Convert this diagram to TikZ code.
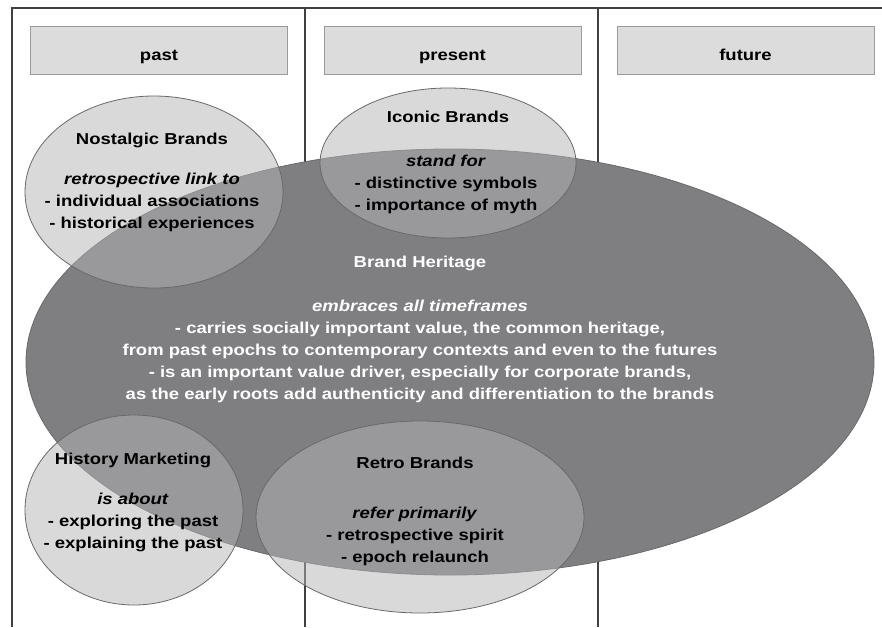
\documentclass[tikz,border=0pt]{standalone}
\usepackage{fontspec}
\setmainfont{Liberation Sans}[FakeStretch=1.17]
\usetikzlibrary{shapes.geometric,positioning}
\definecolor{framegray}{HTML}{404040}
\definecolor{boxgray}{HTML}{DCDCDD}
\definecolor{boxline}{HTML}{9A9A9A}
\definecolor{heritage}{HTML}{7F7F82}
\definecolor{brandgray}{HTML}{B3B3B6}
\definecolor{rimgray}{HTML}{696969}
\newcommand{\ital}[1]{\textit{#1}}
\tikzset{
  frame/.style={draw=framegray,line width=1.4pt},
  timebox/.style={draw=boxline,fill=boxgray,line width=0.9pt,minimum width=257pt,minimum height=48pt,inner sep=0pt},
  brand/.style={ellipse,draw=rimgray,line width=0.8pt,fill=brandgray,fill opacity=0.5,inner sep=0pt},
  txt/.style={anchor=base,inner sep=0pt,font=\fontsize{15.8}{22}\selectfont\bfseries},
}

\begin{document}
\begin{tikzpicture}[x=1pt,y=-1pt]
  \useasboundingbox (0,0) rectangle (882,627);
  % timeframe columns
  \draw[frame] (12,627) -- (12,8) -- (882,8);
  \draw[frame] (305,8) -- (305,627) (598,8) -- (598,627);
  \node[timebox] (past) at (159,50) {};
  \node[timebox] (present) at (452.5,50) {};
  \node[timebox] (future) at (745.5,50) {};
  \node[txt] (pastlbl) at (159,60) {past};
  \node[txt] (presentlbl) at (452.5,60) {present};
  \node[txt] (futurelbl) at (745.5,60) {future};

  % brand heritage underneath everything else
  \node[ellipse,draw=rimgray,line width=0.8pt,fill=heritage,inner sep=0pt,
    minimum width=848pt,minimum height=426pt] (heritage) at (450,362) {};

  \node[brand,minimum width=258pt,minimum height=192pt] (nostalgic) at (154,192) {};
  \node[brand,minimum width=256pt,minimum height=150pt] (iconic) at (448,163) {};
  \node[brand,minimum width=218pt,minimum height=190pt] (history) at (134,510) {};
  \node[brand,minimum width=328pt,minimum height=192pt] (retro) at (420,517) {};

  % texts
  \node[txt] (nosttitle) at (152,144) {Nostalgic Brands};
  \foreach \l [count=\i from 0] in {{\ital{retrospective link to}},
      - individual associations, - historical experiences}
    \node[txt] (nost-\i) at (152,184+22*\i) {\l};

  \node[txt] (icontitle) at (448,122) {Iconic Brands};
  \foreach \l [count=\i from 0] in {{\ital{stand for}},
      - distinctive symbols, - importance of myth}
    \node[txt] (icon-\i) at (446,166+22*\i) {\l};

  \node[txt,white] (herititle) at (420,267) {Brand Heritage};
  \foreach \l [count=\i from 0] in {{\ital{embraces all timeframes}},
      {- carries socially important value, the common heritage,},
      from past epochs to contemporary contexts and even to the futures,
      {- is an important value driver, especially for corporate brands,},
      as the early roots add authenticity and differentiation to the brands}
    \node[txt,white] (heri-\i) at (420,311+22*\i) {\l};

  \node[txt] (histtitle) at (133,464) {History Marketing};
  \foreach \l [count=\i from 0] in {{\ital{is about}},
      - exploring the past, - explaining the past}
    \node[txt] (hist-\i) at (133,504+22*\i) {\l};

  \node[txt] (retrotitle) at (415,468) {Retro Brands};
  \foreach \l [count=\i from 0] in {{\ital{refer primarily}},
      - retrospective spirit, - epoch relaunch}
    \node[txt] (retro-\i) at (415,518+22*\i) {\l};
\end{tikzpicture}
\end{document}
